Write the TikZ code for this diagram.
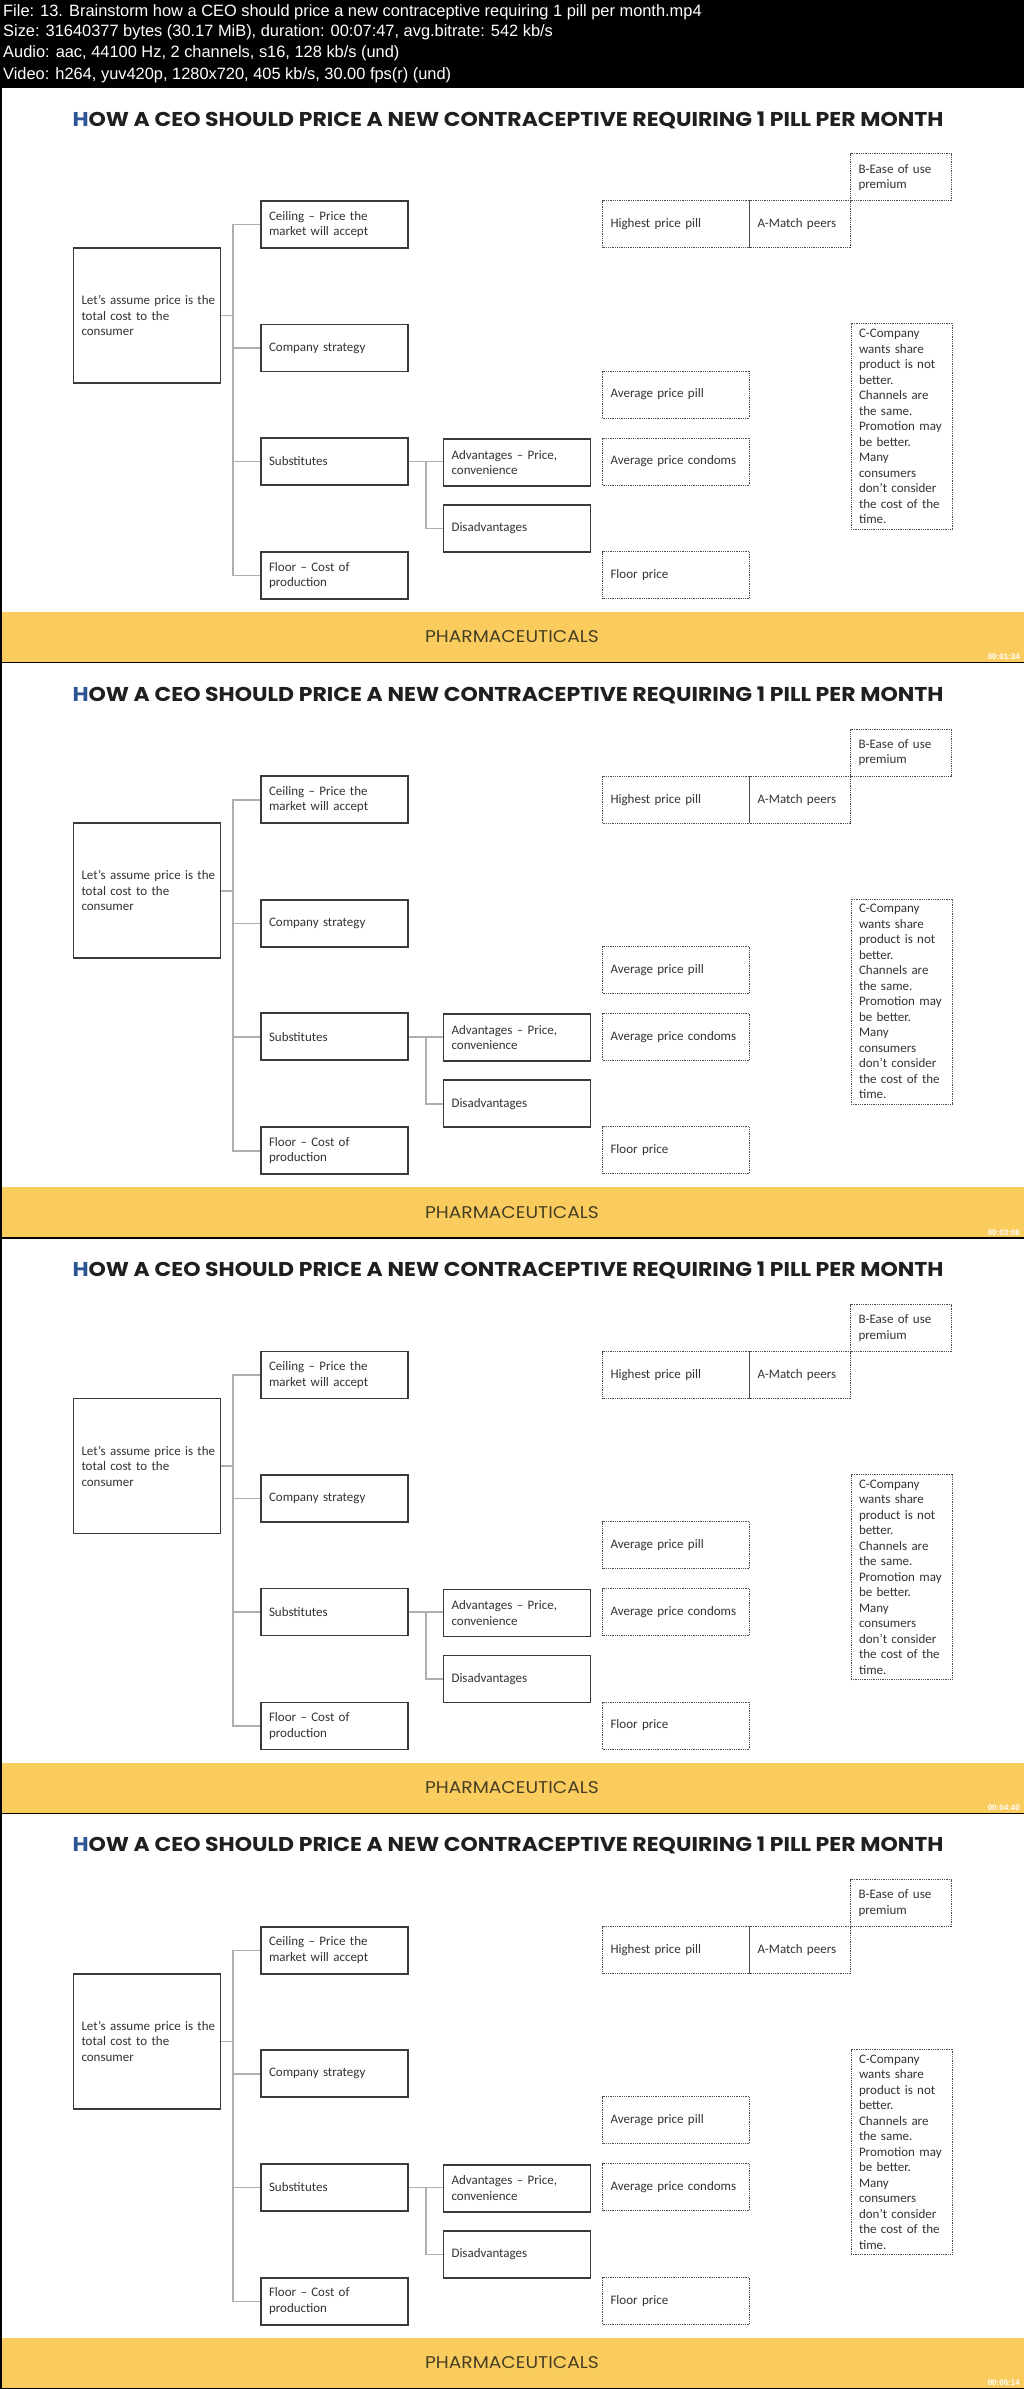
\documentclass[tikz,border=0pt]{standalone}
\usepackage{fontspec}
\setmainfont{Carlito}
\newfontfamily\titlefont[FakeStretch=1.1]{Poppins}
\newfontfamily\hdrfont{Liberation Sans}
\usetikzlibrary{positioning}

\definecolor{bandyellow}{RGB}{250,204,94}
\definecolor{titleblue}{RGB}{46,85,150}
\definecolor{boxline}{RGB}{58,58,58}
\definecolor{linkgray}{RGB}{175,175,175}
\definecolor{bandtext}{RGB}{72,62,36}

\begin{document}
\begin{tikzpicture}[x=1pt, y=-1pt,
        hdr/.style={anchor=west, text=white, inner sep=0pt, font=\hdrfont\fontsize{16.4}{18}\selectfont},
        box/.style={draw=boxline, line width=1.8pt, fill=white, align=left, inner xsep=8pt, inner ysep=0pt,
                    text=black!80, font=\fontsize{13}{15.5}\selectfont},
        dots/.style={box, line width=1pt, draw=boxline!90, dash pattern=on 1pt off 0.8pt, outer sep=0pt},
        wide/.style={text width=131pt, minimum height=47pt},
        slim/.style={text width=85pt, minimum height=47pt},
        link/.style={draw=linkgray, line width=1.5pt},
        heading/.style={font=\titlefont\bfseries\fontsize{20}{22}\selectfont, text=black!88},
        band/.style={font=\titlefont\fontsize{17}{20}\selectfont, text=bandtext},
        stamp/.style={anchor=east, inner sep=0pt, text=white, font=\hdrfont\bfseries\fontsize{8}{9}\selectfont}]
    \useasboundingbox (0,0) rectangle (1024,2389);
    \fill[black] (0,0) rectangle (1024,2389);

    % file info
    \node[hdr] (file) at (3,12) {File: 13. Brainstorm how a CEO should price a new contraceptive requiring 1 pill per month.mp4};
    \node[hdr] (size) at (3,32) {Size: 31640377 bytes (30.17 MiB), duration: 00:07:47, avg.bitrate: 542 kb/s};
    \node[hdr] (audio) at (3,53) {Audio: aac, 44100 Hz, 2 channels, s16, 128 kb/s (und)};
    \node[hdr] (video) at (3,75) {Video: h264, yuv420p, 1280x720, 405 kb/s, 30.00 fps(r) (und)};

    % four frames
    \foreach \k/\stamp in {0/00:01:34, 1/00:03:08, 2/00:04:40, 3/00:06:14}{
        \pgfmathsetmacro\oy{88+575.25*\k}
        \begin{scope}[shift={(0,\oy)}]
            \fill[white] (2,0) rectangle (1024,574);
            \fill[bandyellow] (2,524) rectangle (1024,574);
            \node[heading] (title\k) at (508,32) {\textcolor{titleblue}{H}OW A CEO SHOULD PRICE A NEW CONTRACEPTIVE REQUIRING 1 PILL PER MONTH};

            % tree
            \node[box, text width=131pt, minimum height=135pt] (lets\k) at (147,227.5) {\mbox{Let’s assume price is the}\\ total cost to the\\ consumer};
            \node[box, wide] (ceil\k) at (334.5,136.5) {Ceiling -- Price the\\ market will accept};
            \node[box, wide] (strat\k) at (334.5,260) {Company strategy};
            \node[box, wide] (subs\k) at (334.5,373.5) {Substitutes};
            \node[box, wide] (floor\k) at (334.5,487.5) {Floor -- Cost of\\ production};
            \node[box, wide] (adv\k) at (517,374.5) {Advantages -- Price,\\ convenience};
            \node[box, wide] (dis\k) at (517,440.5) {Disadvantages};

            % price points
            \node[dots, wide] (high\k) at (676,136.5) {Highest price pill};
            \node[dots, slim, right=0pt of high\k] (match\k) {A-Match peers};
            \node[dots, slim, above right=0pt and 0pt of match\k] (ease\k) {B-Ease of use\\ premium};
            \node[dots, wide] (avgpill\k) at (676,306.5) {Average price pill};
            \node[dots, wide] (avgcond\k) at (676,373.5) {Average price condoms};
            \node[dots, wide] (floorp\k) at (676,487) {Floor price};
            \node[dots, text width=85pt, minimum height=205pt] (share\k) at (901.5,338.5) {C-Company\\ wants share\\ product is not\\ better.\\ Channels are\\ the same.\\ Promotion may\\ be better.\\ Many\\ consumers\\ don’t consider\\ the cost of the\\ time.};

            \draw[link] (lets\k.east) -- ++(12,0);
            \draw[link] (ceil\k.west) -- ++(-27,0) |- (floor\k.west);
            \draw[link] (strat\k.west) -- ++(-27,0);
            \draw[link] (subs\k.west) -- ++(-27,0);
            \draw[link] (subs\k.east) -- (adv\k.west |- subs\k.east);
            \draw[link] (subs\k.east) ++(17,0) |- (dis\k.west);

            \node[band] (sector\k) at (512,549) {PHARMACEUTICALS};
            \node[stamp] (time\k) at (1020,569) {\stamp};
        \end{scope}
    }
\end{tikzpicture}
\end{document}
